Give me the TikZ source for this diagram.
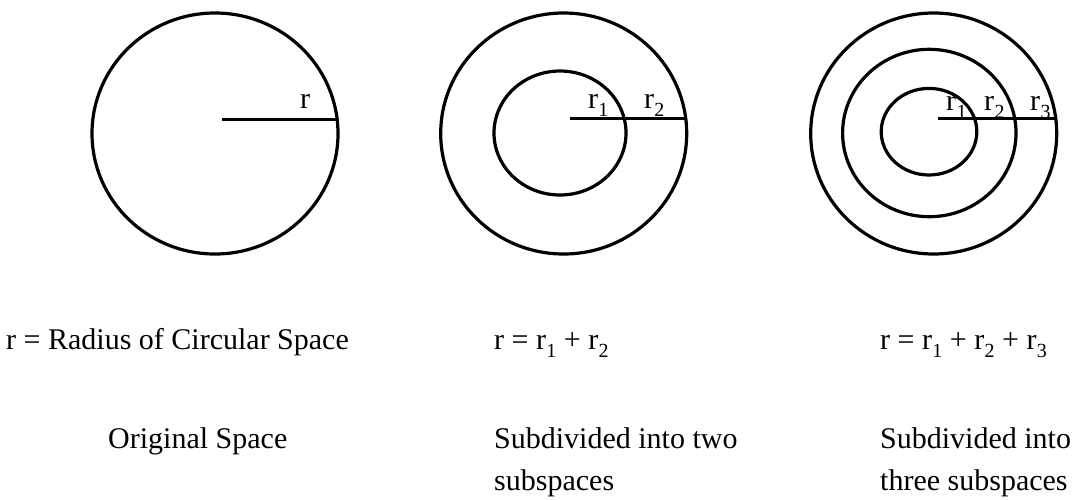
\documentclass[tikz,border=0pt]{standalone}
\usepackage{fontspec}
\setmainfont{Liberation Serif}
\newcommand\rs[1]{r\kern0.3pt\raisebox{-0.28em}{\fontsize{20}{20}\selectfont #1}}
\begin{document}
\begin{tikzpicture}[x=1pt,y=-1pt,
  ring/.style={draw=black,line width=3.2pt},
  radline/.style={draw=black,line width=3pt},
  lbl/.style={anchor=base west,inner sep=0pt,font=\fontsize{30}{36}\selectfont},
  txt/.style={anchor=base west,inner sep=0pt,font=\fontsize{30}{36}\selectfont}]
\useasboundingbox (0,0) rectangle (1082,499);
% circle 1
\draw[ring] (215,133.5) ellipse [x radius=123pt, y radius=120.5pt];
\coordinate (c1) at (222,119);
\coordinate (e1) at (337.1,119);
\draw[radline] (c1) -- (e1);
\node[lbl] (l1) at (300,108) {r};
% circle 2
\draw[ring] (563.7,133.5) ellipse [x radius=123pt, y radius=120.5pt];
\draw[ring] (560,133) ellipse [x radius=66pt, y radius=62pt];
\coordinate (c2) at (570,118);
\coordinate (e2) at (685.7,118);
\draw[radline] (c2) -- (e2);
\node[lbl] (l21) at (588,108) {\rs{1}};
\node[lbl] (l22) at (644,108) {\rs{2}};
% circle 3
\draw[ring] (933.7,133.5) ellipse [x radius=123pt, y radius=120.5pt];
\draw[ring] (929.3,133) ellipse [x radius=86.7pt, y radius=83.7pt];
\draw[ring] (929,131.7) ellipse [x radius=47.8pt, y radius=43.3pt];
\coordinate (c3) at (938,118);
\coordinate (e3) at (1055.7,118);
\draw[radline] (c3) -- (e3);
\node[lbl] (l31) at (946,110) {\rs{1}};
\node[lbl] (l32) at (984,110) {\rs{2}};
\node[lbl] (l33) at (1030,110) {\rs{3}};
% texts
\node[txt] (t1) at (6,349) {r = Radius of Circular Space};
\node[txt] (t2) at (494,349) {r = \rs{1} + \rs{2}};
\node[txt] (t3) at (880,349) {r = \rs{1} + \rs{2} + \rs{3}};
\node[txt] (o1) at (108,448) {Original Space};
\node[txt] (o2) at (494,448) {Subdivided into two};
\node[txt] (o2b) at (494,490) {subspaces};
\node[txt] (o3) at (880,448) {Subdivided into};
\node[txt] (o3b) at (880,490) {three subspaces};
\end{tikzpicture}
\end{document}
